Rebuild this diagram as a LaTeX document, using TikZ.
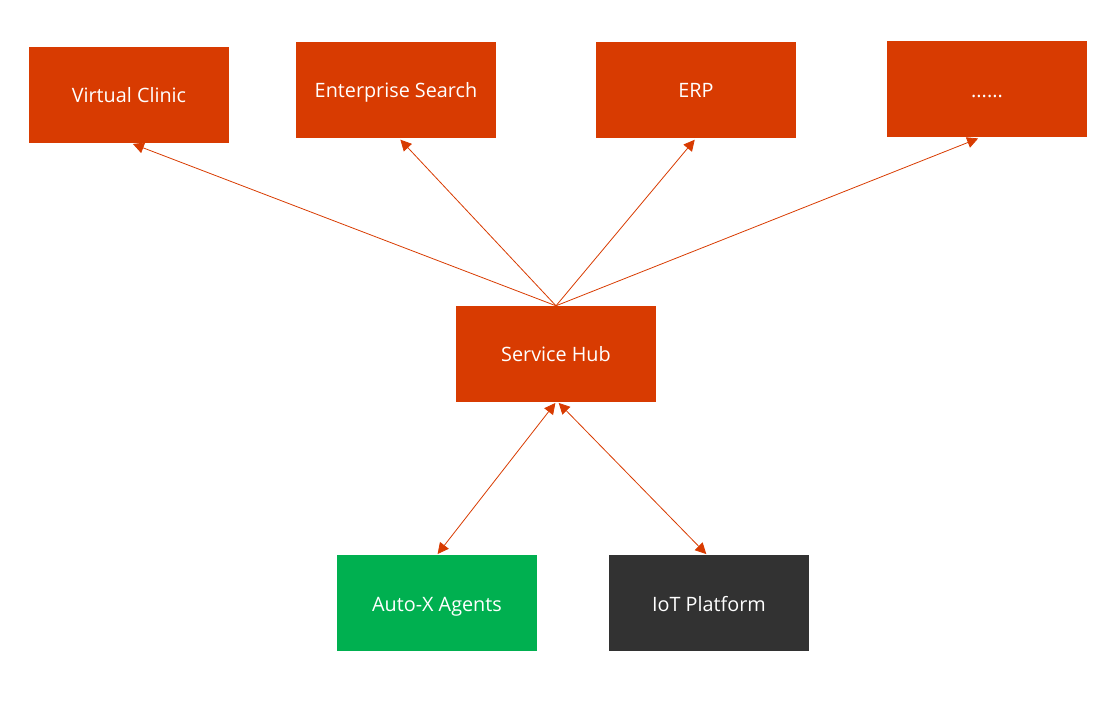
\documentclass[tikz,border=0pt]{standalone}
\usepackage{fontspec}
\setmainfont{Open Sans}
\usetikzlibrary{arrows.meta}
\definecolor{hubor}{HTML}{D83B01}
\definecolor{agentgreen}{HTML}{00B050}
\definecolor{iotdark}{HTML}{323232}
\begin{document}
\begin{tikzpicture}[x=1pt,y=-1pt,
  box/.style={fill=hubor,draw=none,minimum width=200pt,minimum height=96pt,inner sep=0pt,text height=17pt,text depth=1pt,text=white,font=\fontsize{19.8}{22}\selectfont},
  conn/.style={draw=hubor,line width=0.8pt,-{Triangle[length=11pt,width=11pt]}},
  conn2/.style={draw=hubor,line width=0.8pt,{Triangle[length=11pt,width=11pt]}-{Triangle[length=11pt,width=11pt]}}]
\useasboundingbox (0,0) rectangle (1114,703);
\node[box] (vc) at (129,95) {Virtual Clinic};
\node[box] (es) at (396,90) {Enterprise Search};
\node[box] (erp) at (696,90) {ERP};
\node[box] (more) at (987,89.5) {......};
\node[box] (hub) at (556,354) {Service Hub};
\node[box,fill=agentgreen] (ax) at (437,603) {Auto-X Agents};
\node[box,fill=iotdark] (iot) at (709,603) {IoT Platform};
\draw[conn,shorten >=2pt] (hub.north) -- ([xshift=2pt]vc.south);
\draw[conn,shorten >=2pt] (hub.north) -- ([xshift=3pt]es.south);
\draw[conn,shorten >=2pt] (hub.north) -- (erp.south);
\draw[conn,shorten >=2pt] (hub.north) -- ([xshift=-7pt]more.south);
\draw[conn2,shorten <=1pt,shorten >=1pt] ([xshift=0pt]hub.south) -- (ax.north);
\draw[conn2,shorten <=1pt,shorten >=1pt] ([xshift=2pt]hub.south) -- ([xshift=-2pt]iot.north);
\end{tikzpicture}
\end{document}
